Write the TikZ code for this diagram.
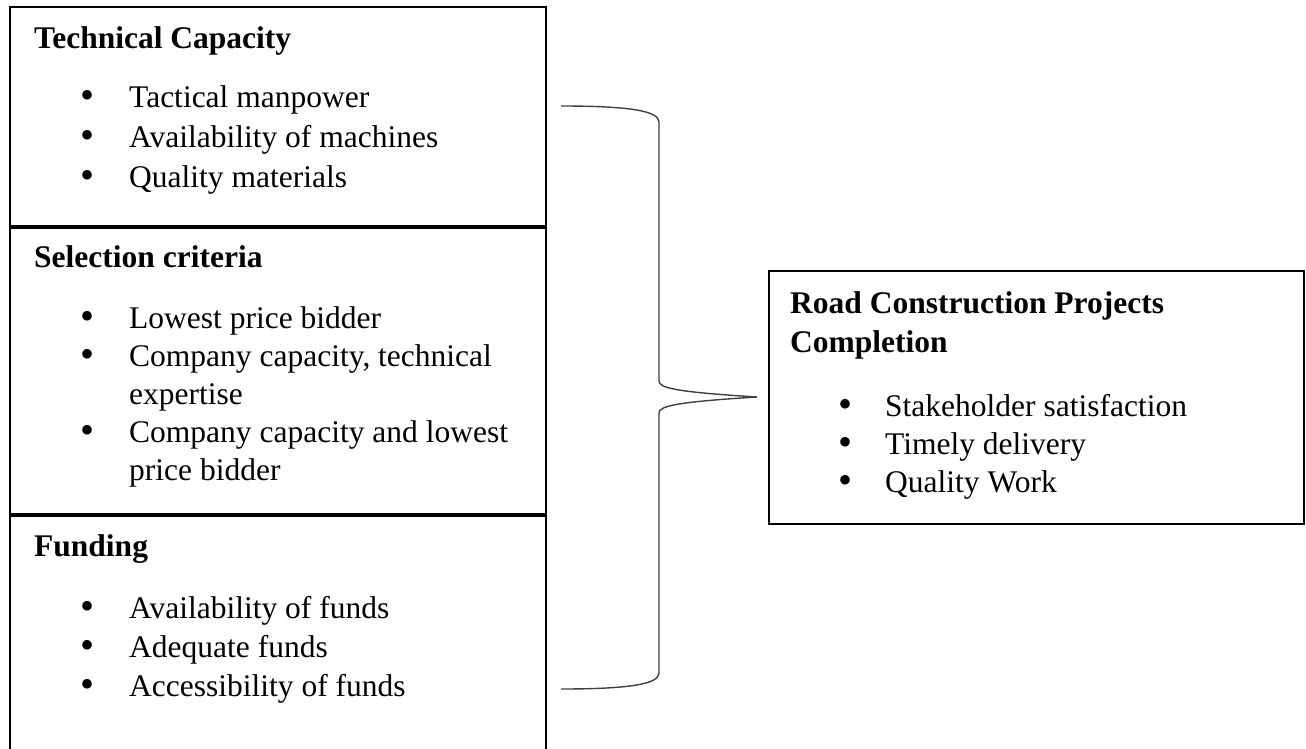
\documentclass[tikz,border=0pt]{standalone}
\usepackage{fontspec}
\setmainfont{Liberation Serif}
\tikzset{
  frame/.style={line width=2.4pt, line join=miter},
  divider/.style={line width=4pt},
  bracestyle/.style={line width=1.4pt, draw=black!75},
  title/.style={anchor=base west, inner sep=0pt, font=\bfseries\fontsize{31.5}{38}\selectfont},
  item/.style={anchor=base west, inner sep=0pt, font=\fontsize{31.5}{38}\selectfont},
  dot/.style={anchor=base west, inner sep=0pt, yshift=-1pt, font=\fontsize{40}{40}\selectfont},
}
\begin{document}
\begin{tikzpicture}[x=1pt, y=-1pt]
\useasboundingbox (0,0) rectangle (1306,749);
\fill[white] (0,0) rectangle (1306,749);

% left box
\draw[frame] (10,752) -- (10,7) -- (546,7) -- (546,752);
\draw[divider] (10,227) -- (546,227);
\draw[divider] (10,515) -- (546,515);

% Technical Capacity
\node[title] (t1) at (34,49) {Technical Capacity};
\node[dot] (d11) at (80,108) {•};
\node[item] (i11) at (129,108) {Tactical manpower};
\node[dot] (d12) at (80,147.5) {•};
\node[item] (i12) at (129,147.5) {Availability of machines};
\node[dot] (d13) at (80,187) {•};
\node[item] (i13) at (129,187) {Quality materials};

% Selection criteria
\node[title] (t2) at (34,267) {Selection criteria};
\node[dot] (d21) at (80,328) {•};
\node[item] (i21) at (129,328) {Lowest price bidder};
\node[dot] (d22) at (80,366) {•};
\node[item] (i22) at (129,366) {Company capacity, technical};
\node[item] (i22b) at (129,404) {expertise};
\node[dot] (d23) at (80,442) {•};
\node[item] (i23) at (129,442) {Company capacity and lowest};
\node[item] (i23b) at (129,480) {price bidder};

% Funding
\node[title] (t3) at (34,556) {Funding};
\node[dot] (d31) at (80,618) {•};
\node[item] (i31) at (129,618) {Availability of funds};
\node[dot] (d32) at (80,657) {•};
\node[item] (i32) at (129,657) {Adequate funds};
\node[dot] (d33) at (80,696) {•};
\node[item] (i33) at (129,696) {Accessibility of funds};

% right box
\node[draw, frame, minimum width=535pt, minimum height=253pt, inner sep=0pt] (rbox) at (1036.5,397.5) {};
\node[title] (t4) at (790,313) {Road Construction Projects};
\node[title] (t4b) at (790,352) {Completion};
\node[dot] (d41) at (838,416) {•};
\node[item] (i41) at (885,416) {Stakeholder satisfaction};
\node[dot] (d42) at (838,454) {•};
\node[item] (i42) at (885,454) {Timely delivery};
\node[dot] (d43) at (838,492) {•};
\node[item] (i43) at (885,492) {Quality Work};

% brace
\coordinate (bt) at (561,106);
\coordinate (bb) at (561,689);
\coordinate (tip) at (757,397);
\draw[bracestyle] (bt) .. controls (630,106) and (659,111) .. (659,122)
  -- (659,381) .. controls (659,388) and (676,392) .. (tip)
  .. controls (676,402) and (659,406) .. (659,413)
  -- (659,673) .. controls (659,684) and (630,689) .. (bb);
\end{tikzpicture}
\end{document}
